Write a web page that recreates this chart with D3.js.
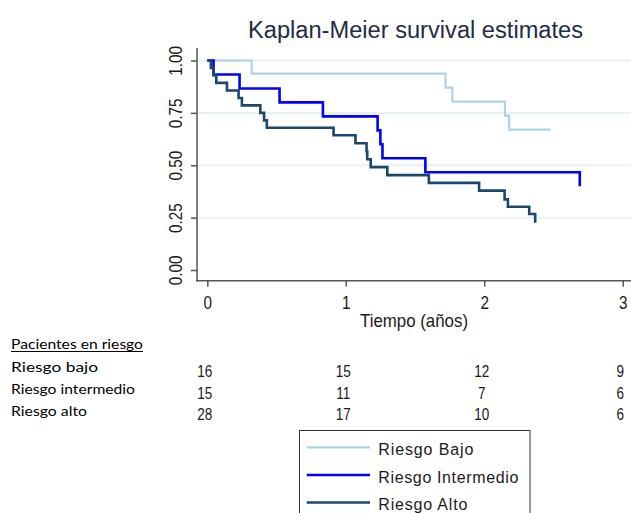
<!DOCTYPE html>
<html>
<head>
<meta charset="utf-8">
<script src="https://cdn.jsdelivr.net/npm/d3@7"></script>
<style>
  html, body { margin: 0; padding: 0; background: #fff; }
  svg { display: block; }
</style>
</head>
<body>
<svg id="chart" width="631" height="513"></svg>
<script>
// Kaplan-Meier step estimates per risk group: event times (years) and survival after each step
const bajoTimes = [0, 0.32, 1.72, 1.77, 2.15, 2.18, 2.48];
const bajoSurv  = [1, 0.9375, 0.8705, 0.8036, 0.7366, 0.6696, 0.6696];

const interTimes = [0, 0.045, 0.233, 0.522, 0.835, 1.23, 1.25, 1.265, 1.575, 2.69];
const interSurv  = [1, 0.9333, 0.8667, 0.8, 0.7333, 0.6667, 0.6, 0.5333, 0.4667, 0.40];

const altoTimes = [0, 0.026, 0.046, 0.065, 0.142, 0.226, 0.25, 0.383, 0.41, 0.43, 0.912,
                   1.07, 1.15, 1.155, 1.18, 1.30, 1.60, 1.963, 2.147, 2.171, 2.325, 2.368];
const altoSurv  = [1, 0.964, 0.929, 0.893, 0.857, 0.821, 0.786, 0.75, 0.714, 0.679, 0.643,
                   0.605, 0.567, 0.529, 0.491, 0.453, 0.416, 0.379, 0.337, 0.302, 0.267, 0.226];

const seriesNames = ["Riesgo Bajo", "Riesgo Intermedio", "Riesgo Alto"];
const seriesColors = ["#a9d4e2", "#0000ff", "#1a476f"];

const xTicks = [0, 1, 2, 3];
const yTicks = [0, 0.25, 0.5, 0.75, 1];
const yTickLabels = ["0.00", "0.25", "0.50", "0.75", "1.00"];

// Number at risk table
const riskTitle = "Pacientes en riesgo";
const riskRows = ["Riesgo bajo", "Riesgo intermedio", "Riesgo alto"];
const riskBajo = [16, 15, 12, 9];
const riskInter = [15, 11, 7, 6];
const riskAlto = [28, 17, 10, 6];

const svg = d3.select("#chart");
const x = d3.scaleLinear().domain([0, 3]).range([207.3, 622.7]);
const y = d3.scaleLinear().domain([0, 1]).range([270, 60.5]);

const axisX0 = 197, axisY0 = 280.7;
const sansFont = "'Liberation Sans', Arial, sans-serif";

// Title
svg.append("text")
  .attr("x", 248).attr("y", 38)
  .attr("font-family", sansFont).attr("font-size", 23)
  .attr("fill", "#222b45")
  .attr("textLength", 335).attr("lengthAdjust", "spacingAndGlyphs")
  .text("Kaplan-Meier survival estimates");

// Horizontal grid lines
svg.append("g").selectAll("line")
  .data(yTicks.filter(d => d > 0))
  .join("line")
  .attr("x1", axisX0 + 1).attr("x2", 631)
  .attr("y1", d => y(d)).attr("y2", d => y(d))
  .attr("stroke", "#e8f0f2").attr("stroke-width", 2);

// Y axis
const yAxis = svg.append("g")
  .attr("transform", `translate(${axisX0},0)`)
  .call(d3.axisLeft(y).tickValues(yTicks).tickSize(6)
    .tickFormat((d, i) => yTickLabels[i]));
yAxis.select(".domain").remove();
yAxis.selectAll(".tick line").attr("stroke", "#555").attr("stroke-width", 1.5);
yAxis.selectAll(".tick text")
  .attr("x", null).attr("dy", 0).attr("y", 0)
  .attr("transform", "translate(-15,0) rotate(-90) scale(0.85,1)")
  .attr("text-anchor", "middle")
  .attr("font-family", sansFont).attr("font-size", 18)
  .attr("fill", "#1a1a1a");
svg.append("line")
  .attr("x1", axisX0).attr("x2", axisX0)
  .attr("y1", 48).attr("y2", axisY0 + 0.75)
  .attr("stroke", "#555").attr("stroke-width", 1.5);

// X axis
const xAxis = svg.append("g")
  .attr("transform", `translate(0,${axisY0})`)
  .call(d3.axisBottom(x).tickValues(xTicks).tickSize(6).tickFormat(d3.format("d")));
xAxis.select(".domain").remove();
xAxis.selectAll(".tick line").attr("stroke", "#555").attr("stroke-width", 1.5);
xAxis.selectAll(".tick text")
  .attr("y", 28.3).attr("dy", 0)
  .attr("transform", "scale(0.85,1)")
  .attr("font-family", sansFont).attr("font-size", 18)
  .attr("fill", "#1a1a1a");
svg.append("line")
  .attr("x1", axisX0 - 0.75).attr("x2", 631)
  .attr("y1", axisY0).attr("y2", axisY0)
  .attr("stroke", "#555").attr("stroke-width", 1.5);

svg.append("text")
  .attr("x", 360).attr("y", 326.7)
  .attr("font-family", sansFont).attr("font-size", 18.5)
  .attr("fill", "#1a1a1a")
  .attr("textLength", 108).attr("lengthAdjust", "spacingAndGlyphs")
  .text("Tiempo (años)");

// Survival curves
const series = [
  { times: bajoTimes, surv: bajoSurv, width: 2.2 },
  { times: interTimes, surv: interSurv, width: 2.6 },
  { times: altoTimes, surv: altoSurv, width: 2.6 }
];
const step = d3.line()
  .x(d => x(d[0])).y(d => y(d[1]))
  .curve(d3.curveStepAfter);
svg.append("g").selectAll("path")
  .data(series)
  .join("path")
  .attr("d", s => step(s.times.map((t, i) => [t, s.surv[i]])))
  .attr("fill", "none")
  .attr("stroke", (s, i) => seriesColors[i])
  .attr("stroke-width", s => s.width)
  .attr("stroke-linejoin", "miter");

// Number at risk table
const tableFont = "Lato, 'Open Sans', sans-serif";
svg.append("text")
  .attr("x", 11).attr("y", 349)
  .attr("font-family", tableFont).attr("font-size", 14)
  .attr("fill", "#000")
  .attr("textLength", 132).attr("lengthAdjust", "spacingAndGlyphs")
  .text(riskTitle);
svg.append("line")
  .attr("x1", 11).attr("x2", 143)
  .attr("y1", 351.5).attr("y2", 351.5)
  .attr("stroke", "#000").attr("stroke-width", 1);

const rowBase = [371.7, 394, 416];
const rowNumBase = [376.8, 398.6, 420.2];
const rowWidths = [87, 124, 76];
svg.append("g").selectAll("text")
  .data(riskRows)
  .join("text")
  .attr("x", 11).attr("y", (d, i) => rowBase[i])
  .attr("font-family", tableFont).attr("font-size", 14)
  .attr("fill", "#000")
  .attr("textLength", (d, i) => rowWidths[i]).attr("lengthAdjust", "spacingAndGlyphs")
  .text(d => d);

[riskBajo, riskInter, riskAlto].forEach((row, r) => {
  svg.append("g").selectAll("text")
    .data(row)
    .join("text")
    .attr("transform", (d, i) => `translate(${x(xTicks[i]) - 2.5},${rowNumBase[r]}) scale(0.82,1)`)
    .attr("text-anchor", "middle")
    .attr("font-family", sansFont).attr("font-size", 16.5)
    .attr("fill", "#1a1a1a")
    .text(d => d);
});

// Legend
const legend = svg.append("g");
legend.append("rect")
  .attr("x", 299.5).attr("y", 430.5)
  .attr("width", 230.5).attr("height", 100)
  .attr("fill", "#fff").attr("stroke", "#333").attr("stroke-width", 1);
const legY = [447.3, 475, 502.5];
legend.selectAll("line")
  .data(seriesNames)
  .join("line")
  .attr("x1", 306.7).attr("x2", 370)
  .attr("y1", (d, i) => legY[i]).attr("y2", (d, i) => legY[i])
  .attr("stroke", (d, i) => seriesColors[i])
  .attr("stroke-width", (d, i) => series[i].width);
const legWidths = [95, 140, 89];
legend.selectAll("text")
  .data(seriesNames)
  .join("text")
  .attr("x", 378.3).attr("y", (d, i) => legY[i] + 7.8)
  .attr("font-family", sansFont).attr("font-size", 16)
  .attr("fill", "#1a1a1a")
  .attr("textLength", (d, i) => legWidths[i]).attr("lengthAdjust", "spacing")
  .text(d => d);
</script>
</body>
</html>
